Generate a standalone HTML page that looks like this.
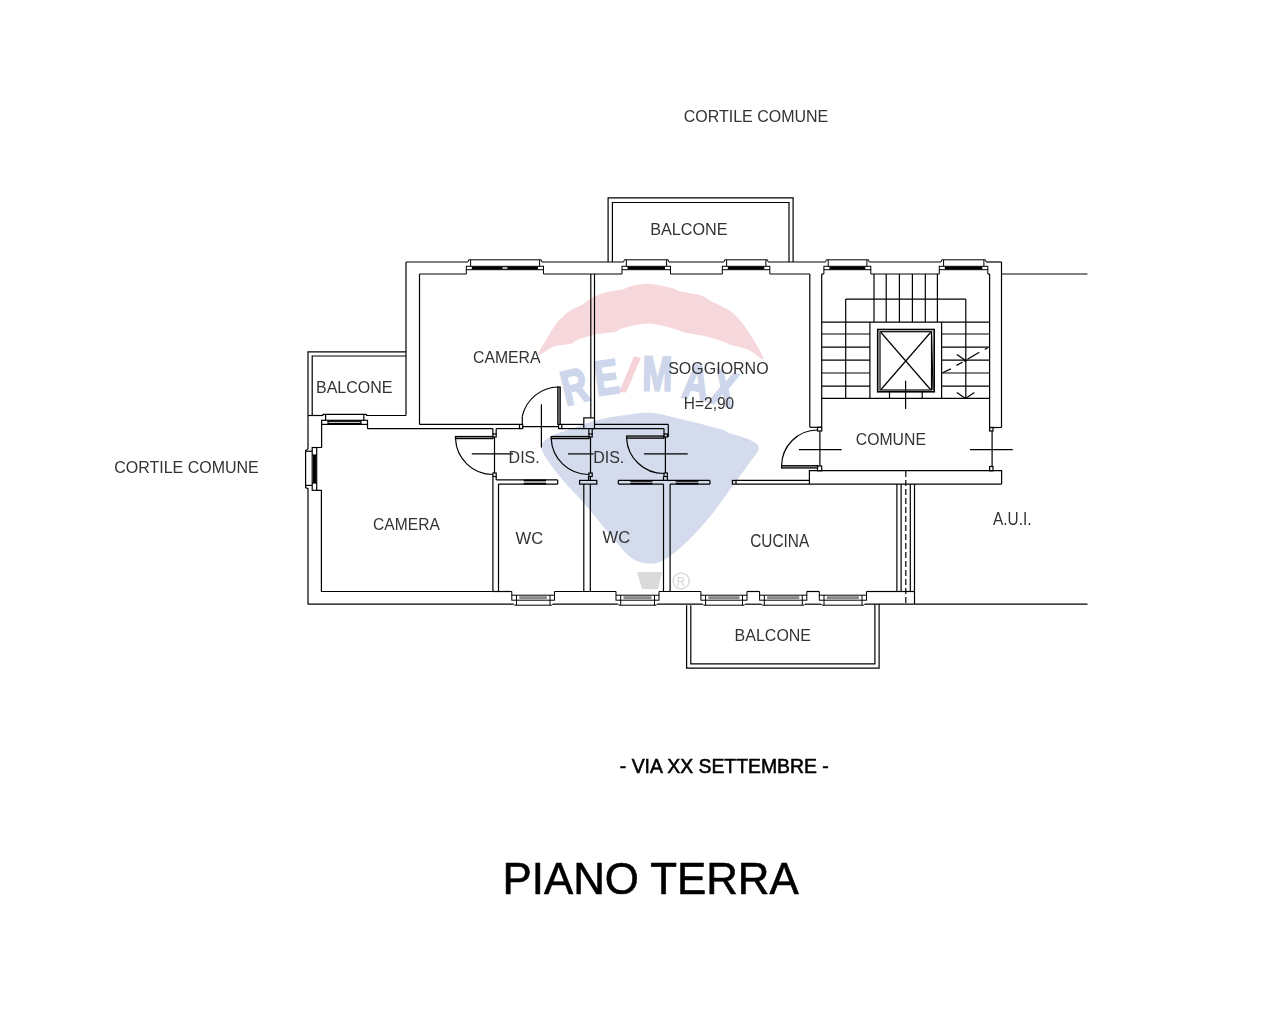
<!DOCTYPE html>
<html><head><meta charset="utf-8"><title>Piano Terra</title>
<style>
html,body{margin:0;padding:0;background:#fff;}
svg{display:block;}
</style></head>
<body>
<svg width="1288" height="1012" viewBox="0 0 1288 1012">
<rect x="0" y="0" width="1288" height="1012" fill="#fff"/>

<g>
  <path d="M538.4 355.1 C537.62 353.23 545.33 341.18 548.6 335.6 C551.87 330.02 554.58 325.65 558 321.6 C561.42 317.55 565.07 314.1 569.1 311.3 C573.13 308.5 578.78 306.82 582.2 304.8 C585.62 302.78 586.18 301.13 589.6 299.2 C593.02 297.27 597.1 294.9 602.7 293.2 C608.3 291.5 618.53 290.17 623.2 289 C627.87 287.83 626.23 287.05 630.7 286.2 C635.17 285.35 643.22 283.6 650 283.9 C656.78 284.2 666.43 286.77 671.4 288 C676.37 289.23 674.82 290.05 679.8 291.3 C684.78 292.55 696.17 293.87 701.3 295.5 C706.43 297.13 707.35 299.38 710.6 301.1 C713.85 302.82 716.92 303.63 720.8 305.8 C724.68 307.97 729.38 309.92 733.9 314.1 C738.42 318.28 742.93 323.43 747.9 330.9 C752.87 338.37 763.7 355.78 763.7 358.9 C763.7 362.02 753.65 352.02 747.9 349.6 C742.15 347.18 732.62 345.5 729.2 344.4 C725.78 343.3 731.28 344.32 727.4 343 C723.52 341.68 713.37 338.28 705.9 336.5 C698.43 334.72 686.78 333.23 682.6 332.3 C678.42 331.37 686.23 332.37 680.8 330.9 C675.37 329.43 659.6 323.97 650 323.5 C640.4 323.03 628.92 326.72 623.2 328.1 C617.48 329.48 620.37 330.72 615.7 331.8 C611.03 332.88 601.72 333.2 595.2 334.6 C588.68 336 580.48 338.72 576.6 340.2 C572.72 341.68 575.78 342.4 571.9 343.5 C568.02 344.6 558.88 344.87 553.3 346.8 C547.72 348.73 539.18 356.97 538.4 355.1 Z" fill="#f6d8dc"/>
  <path d="M541.3 446 C541.83 442.05 546.58 439.22 550.8 436.6 C555.02 433.98 559.23 432.93 566.6 430.3 C573.97 427.67 585.52 423.3 595 420.8 C604.48 418.3 614 416.62 623.5 415.3 C633 413.98 642.35 412.25 652 412.9 C661.65 413.55 670.18 416.57 681.4 419.2 C692.62 421.83 711.13 426.32 719.3 428.7 C727.47 431.08 725.65 431.78 730.4 433.5 C735.15 435.22 743.07 436.63 747.8 439 C752.53 441.37 758.8 443.35 758.8 447.7 C758.8 452.05 753.07 457.47 747.8 465.1 C742.53 472.73 733.8 484.55 727.2 493.5 C720.6 502.45 715.32 510.37 708.2 518.8 C701.08 527.23 691.87 537.23 684.5 544.1 C677.13 550.97 670.08 556.77 664 560 C657.92 563.23 653.68 564.03 648 563.5 C642.32 562.97 636.88 562.4 629.9 556.8 C622.92 551.2 614.02 539.13 606.1 529.9 C598.18 520.67 589.5 509.57 582.4 501.4 C575.3 493.23 569.3 487.75 563.5 480.9 C557.7 474.05 551.3 466.12 547.6 460.3 C543.9 454.48 540.77 449.95 541.3 446 Z" fill="#d3dbec"/>
  <g font-family="Liberation Sans" font-weight="700">
  <text x="0" y="16.9" text-anchor="middle" font-size="49" fill="#cdd6ea" stroke="#cdd6ea" stroke-width="2" transform="translate(574.5 386.5) rotate(-14) scale(0.74 1)">R</text><text x="0" y="16.9" text-anchor="middle" font-size="49" fill="#cdd6ea" stroke="#cdd6ea" stroke-width="2" transform="translate(606.6 377.2) rotate(-8) scale(0.74 1)">E</text><text x="0" y="16.9" text-anchor="middle" font-size="49" fill="#cdd6ea" stroke="#cdd6ea" stroke-width="2" transform="translate(657.5 373.7) rotate(1) scale(0.74 1)">M</text><text x="0" y="16.9" text-anchor="middle" font-size="49" fill="#cdd6ea" stroke="#cdd6ea" stroke-width="2" transform="translate(696 382) rotate(8) scale(0.74 1)">A</text><text x="0" y="16.9" text-anchor="middle" font-size="49" fill="#cdd6ea" stroke="#cdd6ea" stroke-width="2" transform="translate(724 388.5) rotate(14) scale(0.74 1)">X</text>
  </g>
  <path d="M619 392 L 634 356.6 L 641 357.5 L 626 392.5 Z" fill="#f5d3d9"/>
  <path d="M637 572 L 662 572 L 658 589 L 642 589 Z" fill="#dadada"/>
  <circle cx="681.2" cy="580.9" r="8" fill="none" stroke="#dcdcdc" stroke-width="1.5"/>
  <text x="676.5" y="585.5" font-size="12" fill="#d8d8d8" font-family="Liberation Sans">R</text>
</g>

<g fill="none" stroke="#000" stroke-width="1.2">
<g stroke-width="1">
<polyline points="467.9,262 468.7,259.8 541.1,259.8 541.9,262"/>
<line x1="470.6" y1="259.8" x2="470.6" y2="266.3"/>
<line x1="539.6" y1="259.8" x2="539.6" y2="266.3"/>
<rect x="466.3" y="266.3" width="77.2" height="3.4"/>
<rect x="471.8" y="266.6" width="66.2" height="2.8" fill="#000" stroke="none"/>
<rect x="502.4" y="267.3" width="5" height="1.4" fill="#fff" stroke="none"/>
<line x1="466.3" y1="269.7" x2="466.3" y2="274"/>
<line x1="543.5" y1="269.7" x2="543.5" y2="274"/>
<polyline points="623.6,262 624.4,259.8 668.1,259.8 668.9,262"/>
<line x1="626.3" y1="259.8" x2="626.3" y2="266.3"/>
<line x1="666.6" y1="259.8" x2="666.6" y2="266.3"/>
<rect x="622" y="266.3" width="48.5" height="3.4"/>
<rect x="627.5" y="266.6" width="37.5" height="2.8" fill="#000" stroke="none"/>
<line x1="622" y1="269.7" x2="622" y2="274"/>
<line x1="670.5" y1="269.7" x2="670.5" y2="274"/>
<polyline points="723.9,262 724.7,259.8 767.4,259.8 768.2,262"/>
<line x1="726.6" y1="259.8" x2="726.6" y2="266.3"/>
<line x1="765.9" y1="259.8" x2="765.9" y2="266.3"/>
<rect x="722.3" y="266.3" width="47.5" height="3.4"/>
<rect x="727.8" y="266.6" width="36.5" height="2.8" fill="#000" stroke="none"/>
<line x1="722.3" y1="269.7" x2="722.3" y2="274"/>
<line x1="769.8" y1="269.7" x2="769.8" y2="274"/>
<polyline points="825.5,262 826.3,259.8 868.4,259.8 869.2,262"/>
<line x1="828.2" y1="259.8" x2="828.2" y2="266.3"/>
<line x1="866.9" y1="259.8" x2="866.9" y2="266.3"/>
<rect x="823.9" y="266.3" width="46.9" height="3.4"/>
<rect x="829.4" y="266.6" width="35.9" height="2.8" fill="#000" stroke="none"/>
<line x1="823.9" y1="269.7" x2="823.9" y2="274"/>
<line x1="870.8" y1="269.7" x2="870.8" y2="274"/>
<polyline points="940.9,262 941.7,259.8 985.4,259.8 986.2,262"/>
<line x1="943.6" y1="259.8" x2="943.6" y2="266.3"/>
<line x1="983.9" y1="259.8" x2="983.9" y2="266.3"/>
<rect x="939.3" y="266.3" width="48.5" height="3.4"/>
<rect x="944.8" y="266.6" width="37.5" height="2.8" fill="#000" stroke="none"/>
<line x1="939.3" y1="269.7" x2="939.3" y2="274"/>
<line x1="987.8" y1="269.7" x2="987.8" y2="274"/>
</g>
<line x1="406" y1="262" x2="467.9" y2="262"/>
<line x1="541.9" y1="262" x2="623.6" y2="262"/>
<line x1="668.9" y1="262" x2="723.9" y2="262"/>
<line x1="768.2" y1="262" x2="825.5" y2="262"/>
<line x1="869.2" y1="262" x2="940.9" y2="262"/>
<line x1="986.2" y1="262" x2="1001.5" y2="262"/>
<polyline points="608.1,262 608.1,197.8 793.1,197.8 793.1,262"/>
<polyline points="612.4,262 612.4,202.5 789,202.5 789,262"/>
<line x1="419.5" y1="274" x2="466.3" y2="274"/>
<line x1="543.5" y1="274" x2="622" y2="274"/>
<line x1="670.5" y1="274" x2="722.3" y2="274"/>
<line x1="769.8" y1="274" x2="809.8" y2="274"/>
<line x1="821.7" y1="274" x2="823.9" y2="274"/>
<line x1="870.8" y1="274" x2="939.3" y2="274"/>
<line x1="987.8" y1="274" x2="989.6" y2="274"/>
<line x1="406" y1="262" x2="406" y2="415.5"/>
<line x1="419.5" y1="274" x2="419.5" y2="424.4"/>
<polyline points="406,351.8 308,351.8 308,449"/>
<polyline points="406,356 312.2,356 312.2,415.5"/>
<line x1="308" y1="415.5" x2="323.3" y2="415.5"/>
<line x1="366" y1="415.5" x2="406" y2="415.5"/>
<polyline points="322.3,415.5 323.3,414.3 366,414.3 367,415.5"/>
<line x1="325.6" y1="414.3" x2="325.6" y2="420.3"/>
<line x1="363.8" y1="414.3" x2="363.8" y2="420.3"/>
<rect x="321.6" y="420.3" width="45.9" height="4.1"/>
<rect x="328" y="421.3" width="33" height="2.1"/>
<line x1="367.5" y1="424.4" x2="367.5" y2="428.6"/>
<polyline points="308,449 305.6,450.5 305.6,487.5 308,488.6 308,604.2"/>
<line x1="305.6" y1="451.2" x2="312.2" y2="451.2"/>
<line x1="305.6" y1="485.4" x2="312.2" y2="485.4"/>
<rect x="312.2" y="447.5" width="4.5" height="42.8"/>
<rect x="313" y="455" width="3" height="28" fill="#000" stroke="none"/>
<line x1="312.2" y1="455" x2="316.7" y2="455"/>
<line x1="312.2" y1="483" x2="316.7" y2="483"/>
<polyline points="321.6,424.4 321.6,447.5 316.7,447.5"/>
<polyline points="316.7,490.3 321.4,490.3 321.4,591.5 492.9,591.5"/>
<line x1="419.5" y1="424.4" x2="519.5" y2="424.4"/>
<line x1="367.5" y1="428.6" x2="492.9" y2="428.6"/>
<line x1="496.2" y1="428.6" x2="519.5" y2="428.6"/>
<rect x="519.5" y="424.4" width="3.2" height="4.2"/>
<rect x="558.6" y="424.4" width="3.2" height="4.2"/>
<line x1="522.7" y1="426.6" x2="558.6" y2="426.6"/>
<line x1="561.8" y1="424.4" x2="583.8" y2="424.4"/>
<line x1="561.8" y1="428.6" x2="583.8" y2="428.6"/>
<rect x="583.8" y="417.9" width="10.7" height="10.7"/>
<line x1="594.5" y1="424.4" x2="668.3" y2="424.4"/>
<line x1="592.2" y1="428.6" x2="664" y2="428.6"/>
<polyline points="668.3,424.4 668.3,437"/>
<line x1="664" y1="428.6" x2="664" y2="434"/>
<rect x="557.8" y="387" width="2.4" height="37.4" fill="#999"/>
<path d="M558.3 387 A37.4 37.4 0 0 0 522.3 416.2"/>
<line x1="522.3" y1="416.2" x2="522.3" y2="424.4"/>
<line x1="541.4" y1="404.2" x2="541.4" y2="447.6"/>
<line x1="590.8" y1="274" x2="590.8" y2="417.9"/>
<line x1="594.5" y1="274" x2="594.5" y2="417.9"/>
<line x1="492.9" y1="428.6" x2="492.9" y2="434"/>
<line x1="496.2" y1="428.6" x2="496.2" y2="434"/>
<rect x="492.9" y="434" width="3.3" height="3"/>
<rect x="492.9" y="473" width="3.3" height="3.5"/>
<line x1="494.5" y1="437" x2="494.5" y2="473"/>
<line x1="492.9" y1="476.5" x2="492.9" y2="591.5"/>
<line x1="496.2" y1="476.5" x2="496.2" y2="479.9"/>
<rect x="455.5" y="436.5" width="37.4" height="2.1" fill="#999"/>
<path d="M455.5 438.6 A37.4 37.4 0 0 0 492.9 474.5"/>
<line x1="471.8" y1="453.9" x2="513" y2="453.9"/>
<line x1="496.2" y1="479.9" x2="557.7" y2="479.9"/>
<line x1="498.5" y1="484.1" x2="557.7" y2="484.1"/>
<line x1="557.7" y1="479.9" x2="557.7" y2="484.1"/>
<rect x="523.7" y="479.6" width="22.3" height="1.8" fill="#000" stroke="none"/>
<rect x="523.7" y="482.7" width="22.3" height="1.8" fill="#000" stroke="none"/>
<line x1="498.5" y1="484.1" x2="498.5" y2="591.5"/>
<line x1="588.9" y1="428.6" x2="588.9" y2="434"/>
<line x1="592.2" y1="428.6" x2="592.2" y2="434"/>
<rect x="588.9" y="434" width="3.3" height="3"/>
<rect x="588.9" y="473" width="3.3" height="3.5"/>
<line x1="590.5" y1="437" x2="590.5" y2="473"/>
<line x1="588.5" y1="476.5" x2="588.5" y2="480.4"/>
<line x1="590.3" y1="476.5" x2="590.3" y2="480.4"/>
<rect x="579.6" y="480.4" width="17.2" height="3.7"/>
<line x1="583.8" y1="484.1" x2="583.8" y2="591.5"/>
<line x1="590.3" y1="484.1" x2="590.3" y2="591.5"/>
<rect x="551.2" y="436.5" width="37.7" height="2.1" fill="#999"/>
<path d="M551.2 438.6 A37.4 37.4 0 0 0 588.9 474.5"/>
<line x1="568" y1="453.9" x2="593.7" y2="453.9"/>
<rect x="626.6" y="436" width="37.2" height="2.2" fill="#999"/>
<path d="M626.6 438.2 A37.2 37.2 0 0 0 663.8 473.5"/>
<line x1="665.4" y1="437" x2="665.4" y2="473"/>
<rect x="664" y="434" width="3.4" height="3"/>
<rect x="664" y="473" width="3.4" height="3.5"/>
<line x1="644" y1="453.8" x2="687.7" y2="453.8"/>
<line x1="663.5" y1="476.5" x2="663.5" y2="480.4"/>
<line x1="667.4" y1="476.5" x2="667.4" y2="480.4"/>
<line x1="618.3" y1="480.4" x2="710" y2="480.4"/>
<line x1="618.3" y1="484.1" x2="663.5" y2="484.1"/>
<line x1="670.1" y1="484.1" x2="710" y2="484.1"/>
<line x1="618.3" y1="480.4" x2="618.3" y2="484.1"/>
<line x1="710" y1="480.4" x2="710" y2="484.1"/>
<rect x="630.3" y="480.1" width="22.2" height="1.7" fill="#000" stroke="none"/>
<rect x="630.3" y="482.7" width="22.2" height="1.7" fill="#000" stroke="none"/>
<rect x="675.6" y="480.1" width="22.8" height="1.7" fill="#000" stroke="none"/>
<rect x="675.6" y="482.7" width="22.8" height="1.7" fill="#000" stroke="none"/>
<line x1="663.5" y1="484.1" x2="663.5" y2="591.5"/>
<line x1="670.1" y1="484.1" x2="670.1" y2="591.5"/>
<rect x="732.4" y="480.4" width="3.6" height="3.7"/>
<line x1="736" y1="480.4" x2="809.4" y2="480.4"/>
<line x1="736" y1="484.1" x2="1001.6" y2="484.1"/>
<line x1="809.8" y1="274" x2="809.8" y2="427.3"/>
<line x1="821.7" y1="274" x2="821.7" y2="427.3"/>
<line x1="809.8" y1="427.3" x2="821.7" y2="427.3"/>
<rect x="817.5" y="427.3" width="4.2" height="3.7"/>
<rect x="817.5" y="466" width="4.2" height="4.8"/>
<line x1="819.9" y1="431" x2="819.9" y2="466"/>
<polyline points="809.4,484.1 809.4,470.6 1001.6,470.6 1001.6,484.1"/>
<rect x="781.6" y="465.7" width="35.9" height="2.3" fill="#999"/>
<path d="M781.6 465.7 A36 36 0 0 1 817.5 430"/>
<line x1="798.9" y1="449.6" x2="841.7" y2="449.6"/>
<line x1="989.6" y1="274" x2="989.6" y2="427.5"/>
<line x1="1001.5" y1="262" x2="1001.5" y2="427.5"/>
<line x1="989.6" y1="427.5" x2="1001.5" y2="427.5"/>
<rect x="989.6" y="427.5" width="3.4" height="3.5"/>
<rect x="989.6" y="466.5" width="3.4" height="4.3"/>
<line x1="992.1" y1="431" x2="992.1" y2="466.5"/>
<line x1="970" y1="449.6" x2="1012.8" y2="449.6"/>
<line x1="1001.5" y1="274" x2="1087.4" y2="274"/>
<line x1="914.5" y1="604.2" x2="1087.5" y2="604.2"/>
<line x1="896.9" y1="484.1" x2="896.9" y2="591.5"/>
<line x1="901.1" y1="484.1" x2="901.1" y2="591.5"/>
<line x1="910.3" y1="484.1" x2="910.3" y2="591.5"/>
<line x1="914.5" y1="484.1" x2="914.5" y2="604.2"/>
<line x1="905.8" y1="471" x2="905.8" y2="604.2" stroke-dasharray="6,3"/>
<line x1="896.9" y1="591.5" x2="914.5" y2="591.5"/>
<line x1="905.6" y1="380.7" x2="905.6" y2="409"/>
<g stroke-width="1">
<rect x="511.8" y="595.2" width="42.7" height="5"/>
<rect x="519.3" y="596.2" width="27.7" height="3" fill="#888" stroke="none"/>
<line x1="516.5" y1="595.2" x2="516.5" y2="605.2"/>
<line x1="550" y1="595.2" x2="550" y2="605.2"/>
<polyline points="513.6,604.2 514.6,605.2 551.7,605.2 552.7,604.2"/>
<line x1="511.8" y1="591.5" x2="511.8" y2="595.2"/>
<line x1="554.5" y1="591.5" x2="554.5" y2="595.2"/>
<rect x="616" y="595.2" width="43" height="5"/>
<rect x="623.5" y="596.2" width="28" height="3" fill="#888" stroke="none"/>
<line x1="620.7" y1="595.2" x2="620.7" y2="605.2"/>
<line x1="654.5" y1="595.2" x2="654.5" y2="605.2"/>
<polyline points="617.8,604.2 618.8,605.2 656.2,605.2 657.2,604.2"/>
<line x1="616" y1="591.5" x2="616" y2="595.2"/>
<line x1="659" y1="591.5" x2="659" y2="595.2"/>
<rect x="700.9" y="595.2" width="46.1" height="5"/>
<rect x="708.4" y="596.2" width="31.1" height="3" fill="#888" stroke="none"/>
<line x1="705.6" y1="595.2" x2="705.6" y2="605.2"/>
<line x1="742.5" y1="595.2" x2="742.5" y2="605.2"/>
<polyline points="702.7,604.2 703.7,605.2 744.2,605.2 745.2,604.2"/>
<line x1="700.9" y1="591.5" x2="700.9" y2="595.2"/>
<line x1="747" y1="591.5" x2="747" y2="595.2"/>
<rect x="759.6" y="595.2" width="47.2" height="5"/>
<rect x="767.1" y="596.2" width="32.2" height="3" fill="#888" stroke="none"/>
<line x1="764.3" y1="595.2" x2="764.3" y2="605.2"/>
<line x1="802.3" y1="595.2" x2="802.3" y2="605.2"/>
<polyline points="761.4,604.2 762.4,605.2 804,605.2 805,604.2"/>
<line x1="759.6" y1="591.5" x2="759.6" y2="595.2"/>
<line x1="806.8" y1="591.5" x2="806.8" y2="595.2"/>
<rect x="819.3" y="595.2" width="47.2" height="5"/>
<rect x="826.8" y="596.2" width="32.2" height="3" fill="#888" stroke="none"/>
<line x1="824" y1="595.2" x2="824" y2="605.2"/>
<line x1="862" y1="595.2" x2="862" y2="605.2"/>
<polyline points="821.1,604.2 822.1,605.2 863.7,605.2 864.7,604.2"/>
<line x1="819.3" y1="591.5" x2="819.3" y2="595.2"/>
<line x1="866.5" y1="591.5" x2="866.5" y2="595.2"/>
</g>
<line x1="492.9" y1="591.5" x2="511.8" y2="591.5"/>
<line x1="554.5" y1="591.5" x2="616" y2="591.5"/>
<line x1="659" y1="591.5" x2="700.9" y2="591.5"/>
<line x1="747" y1="591.5" x2="759.6" y2="591.5"/>
<line x1="806.8" y1="591.5" x2="819.3" y2="591.5"/>
<line x1="866.5" y1="591.5" x2="896.9" y2="591.5"/>
<line x1="308" y1="604.2" x2="513.6" y2="604.2"/>
<line x1="552.7" y1="604.2" x2="617.8" y2="604.2"/>
<line x1="657.2" y1="604.2" x2="702.7" y2="604.2"/>
<line x1="745.2" y1="604.2" x2="761.4" y2="604.2"/>
<line x1="805" y1="604.2" x2="821.1" y2="604.2"/>
<line x1="864.7" y1="604.2" x2="914.5" y2="604.2"/>
<polyline points="686.6,605.2 686.6,668.1 879.1,668.1 879.1,604.2"/>
<polyline points="690.8,605.2 690.8,663.9 874.9,663.9 874.9,604.2"/>
<line x1="845.7" y1="299.1" x2="965.8" y2="299.1"/>
<line x1="845.7" y1="299.1" x2="845.7" y2="398.4"/>
<line x1="965.8" y1="299.1" x2="965.8" y2="398.4"/>
<line x1="874" y1="274" x2="874" y2="322.1"/>
<line x1="886.2" y1="274" x2="886.2" y2="322.1"/>
<line x1="899.4" y1="274" x2="899.4" y2="322.1"/>
<line x1="912.4" y1="274" x2="912.4" y2="322.1"/>
<line x1="925.3" y1="274" x2="925.3" y2="322.1"/>
<line x1="937.4" y1="274" x2="937.4" y2="322.1"/>
<line x1="821.7" y1="322.1" x2="989.6" y2="322.1"/>
<line x1="821.7" y1="398.4" x2="989.6" y2="398.4"/>
<line x1="869.9" y1="322.1" x2="869.9" y2="398.4"/>
<line x1="941.6" y1="322.1" x2="941.6" y2="398.4"/>
<line x1="821.7" y1="334" x2="869.9" y2="334"/>
<line x1="941.6" y1="334" x2="989.6" y2="334"/>
<line x1="821.7" y1="347.1" x2="869.9" y2="347.1"/>
<line x1="941.6" y1="347.1" x2="989.6" y2="347.1"/>
<line x1="821.7" y1="360.1" x2="869.9" y2="360.1"/>
<line x1="941.6" y1="360.1" x2="989.6" y2="360.1"/>
<line x1="821.7" y1="373" x2="869.9" y2="373"/>
<line x1="941.6" y1="373" x2="989.6" y2="373"/>
<line x1="821.7" y1="386.2" x2="869.9" y2="386.2"/>
<line x1="941.6" y1="386.2" x2="989.6" y2="386.2"/>
<rect x="877.7" y="329.5" width="56.5" height="62.3" stroke-width="1.6"/>
<rect x="880" y="331.7" width="51.5" height="58.3"/>
<line x1="931.5" y1="331.7" x2="933" y2="390" stroke-width="1.2"/>
<line x1="881" y1="332.5" x2="930.5" y2="389.5"/>
<line x1="930.5" y1="332.5" x2="881" y2="389.5"/>
<line x1="889.5" y1="391.8" x2="889.5" y2="398.4"/>
<line x1="922.2" y1="391.8" x2="922.2" y2="398.4"/>
<line x1="942.6" y1="372.7" x2="950.9" y2="368.9"/>
<line x1="956.5" y1="365.4" x2="962.7" y2="362"/>
<line x1="967.5" y1="359.2" x2="979.3" y2="352.3"/>
<line x1="984.8" y1="349.5" x2="987.6" y2="347.8"/>
<circle cx="965.2" cy="360.2" r="1.5" fill="#000" stroke="none"/>
<line x1="956.8" y1="354.4" x2="965.2" y2="360.2"/>
<line x1="956.8" y1="392.4" x2="965.5" y2="398.4"/>
<line x1="974.4" y1="392.4" x2="965.5" y2="398.4"/>
</g>
<g font-family="Liberation Sans" fill="#333" style="will-change:transform">
<text x="0" y="0" font-size="16" font-weight="400" transform="translate(683.7 121.8) scale(1 1.03)">CORTILE COMUNE</text>
<text x="0" y="0" font-size="16.2" font-weight="400" transform="translate(650.2 235.2) scale(1 1.03)">BALCONE</text>
<text x="0" y="0" font-size="15.8" font-weight="400" transform="translate(473 362.6) scale(1 1.03)">CAMERA</text>
<text x="0" y="0" font-size="16.0" font-weight="400" transform="translate(316 393.4) scale(1 1.03)">BALCONE</text>
<text x="0" y="0" font-size="16.0" font-weight="400" transform="translate(668.2 373.6) scale(1 1.03)">SOGGIORNO</text>
<text x="0" y="0" font-size="15.5" font-weight="400" transform="translate(683.8 408.9) scale(1 1.12)">H=2,90</text>
<text x="0" y="0" font-size="15.8" font-weight="400" transform="translate(855.8 444.6) scale(1 1.03)">COMUNE</text>
<text x="0" y="0" font-size="16.0" font-weight="400" transform="translate(114.2 473.1) scale(1 1.03)">CORTILE COMUNE</text>
<text x="0" y="0" font-size="16.0" font-weight="400" transform="translate(508.6 463) scale(1 1.05)">DIS.</text>
<text x="0" y="0" font-size="16.0" font-weight="400" transform="translate(593.2 463) scale(1 1.05)">DIS.</text>
<text x="0" y="0" font-size="15.6" font-weight="400" transform="translate(373.1 529.9) scale(1 1.03)">CAMERA</text>
<text x="0" y="0" font-size="15.4" font-weight="400" transform="translate(993 524.6) scale(1 1.18)">A.U.I.</text>
<text x="0" y="0" font-size="16.6" font-weight="400" transform="translate(515.6 543.5) scale(1 1.03)">WC</text>
<text x="0" y="0" font-size="16.6" font-weight="400" transform="translate(602.6 542.9) scale(1 1.03)">WC</text>
<text x="0" y="0" font-size="15.4" font-weight="400" transform="translate(750.2 547.2) scale(1 1.15)">CUCINA</text>
<text x="0" y="0" font-size="16.0" font-weight="400" transform="translate(734.6 640.9) scale(1 1.03)">BALCONE</text>
<text x="619.8" y="772.6" font-size="19.4" font-weight="400" fill="#000" stroke="#000" stroke-width="0.55">- VIA XX SETTEMBRE -</text>
<text x="0" y="0" font-size="43.8" font-weight="400" fill="#000" stroke="#000" stroke-width="0.6" transform="translate(502.6 893.8) scale(1 1.02)">PIANO TERRA</text>
</g>
</svg>
</body></html>
